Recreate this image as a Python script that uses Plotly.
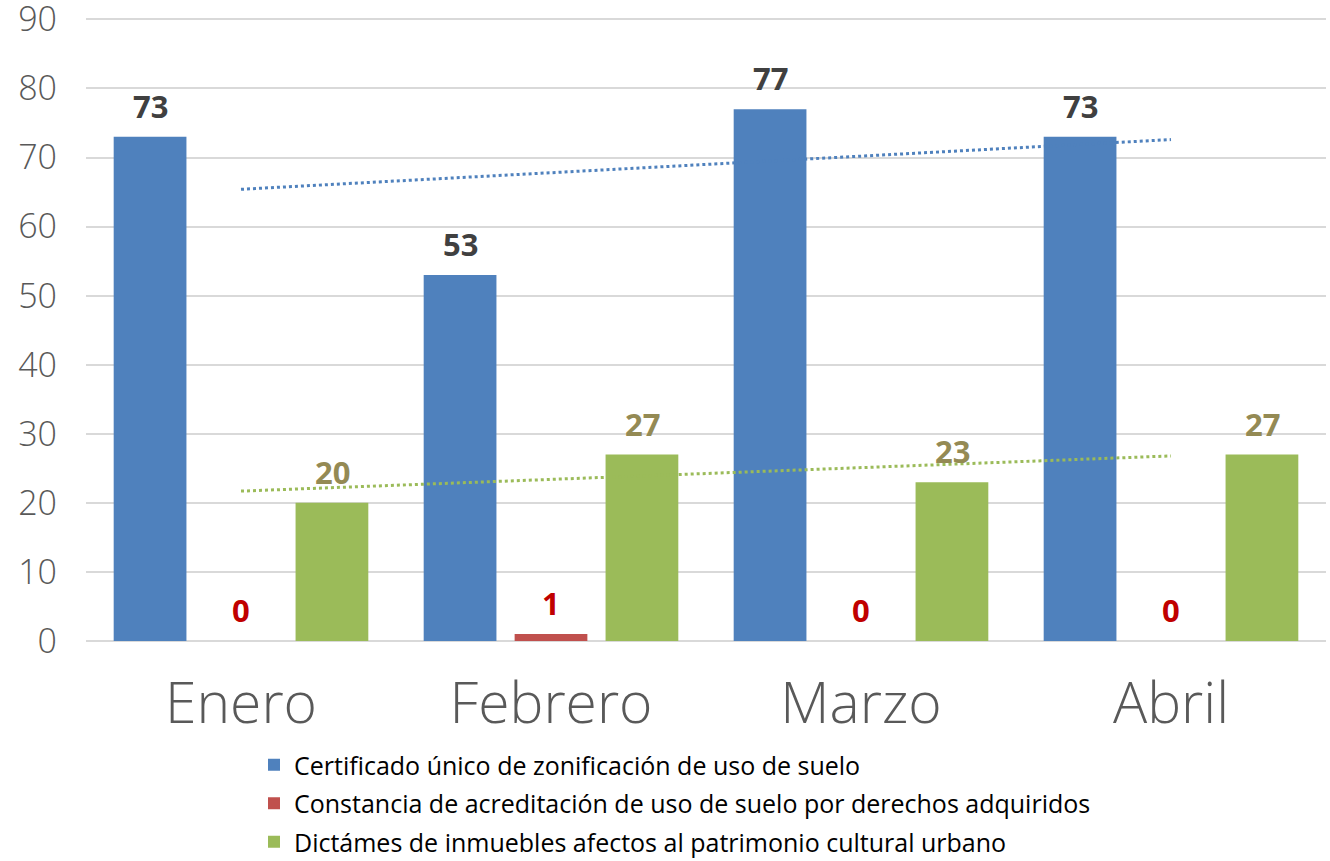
import numpy as np
import plotly.graph_objects as go

months = ["Enero", "Febrero", "Marzo", "Abril"]
series_names = [
    "Certificado único de zonificación de uso de suelo",
    "Constancia de acreditación de uso de suelo por derechos adquiridos",
    "Dictámes de inmuebles afectos al patrimonio cultural urbano",
]
certificado = [73, 53, 77, 73]
constancia = [0, 1, 0, 0]
dictamenes = [20, 27, 23, 27]

bar_colors = ["#4F81BD", "#C0504D", "#9BBB59"]
label_colors = ["#404040", "#C00000", "#948A54"]
all_values = [certificado, constancia, dictamenes]

FONT = "Open Sans"

fig = go.Figure()
for i, (name, vals) in enumerate(zip(series_names, all_values)):
    fig.add_trace(go.Bar(
        x=months, y=vals, name=name, marker_color=bar_colors[i],
        marker_line_width=0, legendgroup=f"g{i}",
    ))

# linear trendlines for first and third series
xi = np.arange(1, len(months) + 1)
for idx in (0, 2):
    slope, intercept = np.polyfit(xi, all_values[idx], 1)
    fig.add_trace(go.Scatter(
        x=months, y=slope * xi + intercept, mode="lines",
        line=dict(color=bar_colors[idx], width=3, dash="dot"),
        showlegend=False, hoverinfo="skip",
    ))

# data labels
slot_px = 91
offsets = [-slot_px, 0, slot_px]
annotations = []
for i, vals in enumerate(all_values):
    for m, v in zip(months, vals):
        annotations.append(dict(
            x=m, y=v, xref="x", yref="y", text=f"<b>{v}</b>", showarrow=False,
            xshift=offsets[i], yshift=31, yanchor="middle",
            font=dict(family=FONT, size=31, color=label_colors[i]),
        ))

fig.update_layout(
    width=1330, height=861,
    margin=dict(l=86, r=4, t=18, b=220, autoexpand=False),
    paper_bgcolor="white", plot_bgcolor="white",
    barmode="group", bargap=0.12, bargroupgap=0.2,
    font=dict(family=FONT, color="#595959"),
    annotations=annotations,
    showlegend=True,
    legend=dict(
        orientation="v", xref="container", yref="container",
        x=254 / 1330, xanchor="left", y=1 - 742 / 861, yanchor="top",
        font=dict(family=FONT, size=25, color="#000000"),
        tracegroupgap=3, bgcolor="rgba(0,0,0,0)",
    ),
    xaxis=dict(
        type="category", showgrid=False, zeroline=False, showline=False,
        tickfont=dict(family=FONT, size=57, color="#595959", weight=300),
        ticks="", ticklabelstandoff=24, automargin=False,
    ),
    yaxis=dict(
        range=[0, 90.2], dtick=10, showgrid=True, gridcolor="#D9D9D9", gridwidth=1.5,
        zeroline=True, zerolinecolor="#D9D9D9", zerolinewidth=1.5,
        showline=False, ticks="", ticklabeloverflow="allow",
        tickfont=dict(family=FONT, size=34, color="#595959", weight=300),
        ticklabelstandoff=28, automargin=False,
    ),
)

fig.write_html("out.html", config={"displayModeBar": False},
               post_script="document.body.style.margin='0';")
